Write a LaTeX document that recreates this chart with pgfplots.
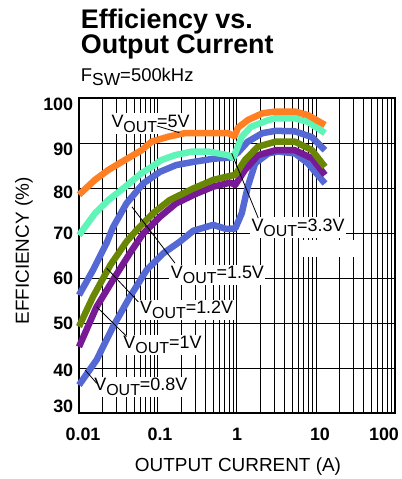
\documentclass[border=0pt]{standalone}
\usepackage{fontspec}
\setmainfont{Liberation Sans}
\usepackage{pgfplots}
\pgfplotsset{compat=1.18}
\definecolor{c5}{RGB}{255,127,34}
\definecolor{c33}{RGB}{95,245,185}
\definecolor{cb}{RGB}{85,105,212}
\definecolor{cg}{RGB}{105,135,5}
\definecolor{cp}{RGB}{120,25,150}
\newcommand\fs[1]{\fontsize{#1}{#1}\selectfont}
\newcommand\vout[1]{V\raisebox{-5bp}{\fs{16}OUT}=#1}
\newcommand\yl[2]{\smash{\raisebox{#1}{#2}}}
\newcommand\xl[2]{\makebox[0pt]{\kern#1\relax #2}}
\begin{document}
\begin{tikzpicture}
\path[use as bounding box] (-79bp,-66bp) rectangle (323bp,413bp);
\begin{axis}[
  at={(0,0)}, anchor=south west,
  scale only axis, width=316bp, height=315bp,
  xmode=log, xmin=0.01, xmax=100, ymin=30, ymax=100,
  clip=false,
  xtick={0.01,0.1,1,10,100},
  minor xtick={0.02,0.03,0.04,0.05,0.06,0.07,0.08,0.09,0.2,0.3,0.4,0.5,0.6,0.7,0.8,0.9,2,3,4,5,6,7,8,9,20,30,40,50,60,70,80,90},
  xticklabels={\xl{8bp}{0.01},\xl{4bp}{0.1},\xl{0bp}{1},\xl{8bp}{10},\xl{-22bp}{100}},
  ytick={30,40,50,60,70,80,90,100},
  yticklabels={\yl{0.3bp}{30},\yl{-8.4bp}{40},\yl{-6.4bp}{50},\yl{-6.4bp}{60},\yl{-6.4bp}{70},\yl{-10.9bp}{80},\yl{-12.4bp}{90},\yl{-12.4bp}{100}},
  xticklabel style={anchor=base, inner sep=0pt, yshift=-27bp, font=\fs{18}\bfseries},
  yticklabel style={anchor=east, inner sep=0pt, xshift=-5.6bp, font=\fs{18}\bfseries},
  major tick length=0pt, minor tick length=0pt,
  xmajorgrids, ymajorgrids, xminorgrids,
  major grid style={black, line width=1bp},
  minor grid style={black, line width=0.7bp},
  axis line style={black, line width=1.8bp},
  every axis plot/.append style={line width=6.5bp, line join=round, no markers},
]
% label boxes (under the curves)
\node[fill=white, inner sep=1.5bp, font=\fs{18}] at (axis cs:0.0804,94.3) {\vout{5V}};
\node[fill=white, inner sep=1.5bp, font=\fs{18}] at (axis cs:5.92,71.2) {\vout{3.3V}};
\fill[white] (axis cs:6.84,64.7) rectangle (axis cs:33,68.4);
\node[fill=white, inner sep=1.5bp, font=\fs{18}] at (axis cs:0.566,60.7) {\vout{1.5V}};
\node[fill=white, inner sep=1.5bp, font=\fs{18}] at (axis cs:0.2306,52.9) {\vout{1.2V}};
\node[fill=white, inner sep=1.5bp, font=\fs{18}] at (axis cs:0.114,45.1) {\vout{1V}};
\node[fill=white, inner sep=1.5bp, font=\fs{18}] at (axis cs:0.0607,35.8) {\vout{0.8V}};
% 0.8V
\addplot[cb] coordinates {(0.01,36.2) (0.0167,41.8) (0.027,49.2) (0.044,55.8) (0.072,61.8) (0.117,65.5) (0.19,68.1) (0.28,70.5) (0.5,71.8) (0.73,70.9) (0.95,71.0) (1.15,74.4) (1.37,80.3) (1.7,85.5) (2.5,87.7) (3.3,88.1) (5.4,87.7) (7.9,85.5) (13,81.0)};
% 1V
\addplot[cp] coordinates {(0.01,44.7) (0.0167,53.6) (0.027,59.6) (0.044,65.5) (0.065,69.9) (0.106,73.6) (0.17,76.6) (0.31,78.8) (0.5,80.3) (0.82,81.2) (0.95,80.7) (1.26,84.0) (1.85,87.3) (3.1,88.4) (5.4,88.4) (8.9,86.6) (13,82.9)};
% 1.2V
\addplot[cg] coordinates {(0.01,49.2) (0.015,55.8) (0.025,62.9) (0.04,68.1) (0.054,70.7) (0.087,74.4) (0.14,77.3) (0.28,79.9) (0.5,81.8) (0.82,82.7) (0.95,82.9) (1.26,86.2) (1.85,89.2) (3.1,90.3) (5.4,90.3) (8.9,88.4) (13,84.7)};
% 1.5V
\addplot[cb] coordinates {(0.01,56.2) (0.0151,61.8) (0.0224,67.8) (0.027,71.3) (0.04,76.6) (0.065,81.0) (0.106,83.6) (0.17,85.1) (0.28,85.8) (0.5,86.5) (0.85,86.8) (1.03,87.9) (1.37,90.3) (2.1,92.2) (3.1,92.7) (5.4,92.6) (8.9,91.3) (13,88.4)};
% 3.3V
\addplot[c33] coordinates {(0.01,69.5) (0.016,74.4) (0.0235,77.3) (0.038,80.2) (0.062,83.3) (0.083,84.7) (0.11,86.2) (0.164,87.3) (0.27,88.1) (0.43,88.1) (0.77,87.3) (0.9,86.7) (0.97,88.2) (1.15,91.4) (1.5,93.6) (2.5,95.1) (3.1,95.5) (5.4,95.5) (7.9,94.7) (13,92.2)};
% 5V
\addplot[c5] coordinates {(0.01,78.5) (0.0159,81.8) (0.0235,84.0) (0.038,86.2) (0.062,88.4) (0.083,90.3) (0.135,91.4) (0.22,92.2) (0.43,92.2) (0.77,92.2) (0.93,91.5) (1.03,93.4) (1.37,95.1) (2.1,96.6) (3.1,97.0) (5.4,97.0) (7.9,96.2) (13,94.0)};
% leader lines
\draw[black, line width=0.8bp] (axis cs:0.0963,93.8) -- (axis cs:0.186,92.3);
\draw[black, line width=0.8bp] (axis cs:0.857,87.7) -- (axis cs:1.86,73.3);
\draw[black, line width=0.8bp] (axis cs:0.0469,75.8) -- (axis cs:0.164,63.3);
\draw[black, line width=0.8bp] (axis cs:0.02243,62.2) -- (axis cs:0.0563,54.7);
\draw[black, line width=0.8bp] (axis cs:0.01675,53.6) -- (axis cs:0.0402,47.0);
\draw[black, line width=0.8bp] (axis cs:0.0119,39.6) -- (axis cs:0.01675,36.6);
\end{axis}
\node[anchor=base west, inner sep=0pt, font=\fs{27}\bfseries] at (1.7bp,384.7bp) {Efficiency vs.};
\node[anchor=base west, inner sep=0pt, font=\fs{27}\bfseries] at (1.7bp,359.7bp) {Output Current};
\node[anchor=base west, inner sep=0pt, font=\fs{18.5}] at (1.7bp,331.5bp) {F\raisebox{-4.5bp}{\fs{17.5}SW}=500kHz};
\node[rotate=90, inner sep=0pt, font=\fs{19}] at (-55bp,162bp) {EFFICIENCY (\%)};
\node[anchor=base, inner sep=0pt, font=\fs{19}] at (159bp,-58.5bp) {OUTPUT CURRENT (A)};
\end{tikzpicture}
\end{document}
